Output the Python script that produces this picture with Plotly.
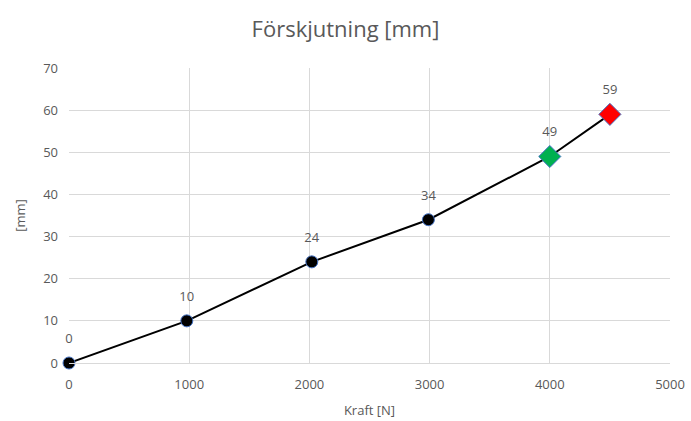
import plotly.graph_objects as go

# Load (N) and displacement (mm)
kraft = [0, 980, 2020, 2990, 4000, 4500]
forskjutning = [0, 10, 24, 34, 49, 59]
etiketter = ["0", "10", "24", "34", "49", "59"]
symboler = ["circle", "circle", "circle", "circle", "diamond", "diamond"]
farger = ["#000000", "#000000", "#000000", "#000000", "#00B050", "#FF0000"]
storlekar = [12, 12, 12, 12, 17, 17]

x_ticks = [0, 1000, 2000, 3000, 4000, 5000]
y_ticks = [0, 10, 20, 30, 40, 50, 60, 70]

grey_text = "#595959"
grid = "#D9D9D9"
font_family = "Open Sans, Liberation Sans, Arial, sans-serif"

fig = go.Figure()
fig.add_trace(go.Scatter(
    x=kraft, y=forskjutning,
    mode="lines+markers",
    line=dict(color="#000000", width=2),
    marker=dict(symbol=symboler, color=farger, size=storlekar, opacity=1,
                line=dict(color="#4472C4", width=1)),
    cliponaxis=False,
    showlegend=False, hoverinfo="skip",
))
fig.add_trace(go.Scatter(
    x=kraft, y=forskjutning,
    mode="text", text=etiketter,
    texttemplate="%{text}<br> ",
    textposition="top center",
    textfont=dict(color=grey_text, size=13, family=font_family),
    cliponaxis=False,
    showlegend=False, hoverinfo="skip",
))

fig.update_layout(
    width=691, height=421,
    margin=dict(l=69, r=21, t=68, b=58),
    paper_bgcolor="white", plot_bgcolor="white",
    font=dict(family=font_family, color=grey_text, size=13),
    title=dict(text="Förskjutning [mm]", x=0.5, xanchor="center",
               y=0.93, yanchor="middle",
               font=dict(size=22, color=grey_text, family=font_family)),
    xaxis=dict(range=[0, 5000], tickvals=x_ticks, showgrid=True,
               gridcolor=grid, gridwidth=1, zeroline=False,
               showline=True, linecolor=grid, linewidth=1,
               ticks="", tickfont=dict(size=13, color=grey_text),
               ticklabelstandoff=9, automargin=False,
               title=dict(text="Kraft [N]", font=dict(size=13, color=grey_text),
                          standoff=14)),
    yaxis=dict(range=[0, 70], tickvals=y_ticks, showgrid=True,
               gridcolor=grid, gridwidth=1, zeroline=False,
               showline=False, ticks="",
               tickfont=dict(size=13, color=grey_text),
               ticklabelstandoff=10, automargin=False,
               title=dict(text="[mm]", font=dict(size=13, color=grey_text),
                          standoff=14)),
)

fig.write_html("out.html")
